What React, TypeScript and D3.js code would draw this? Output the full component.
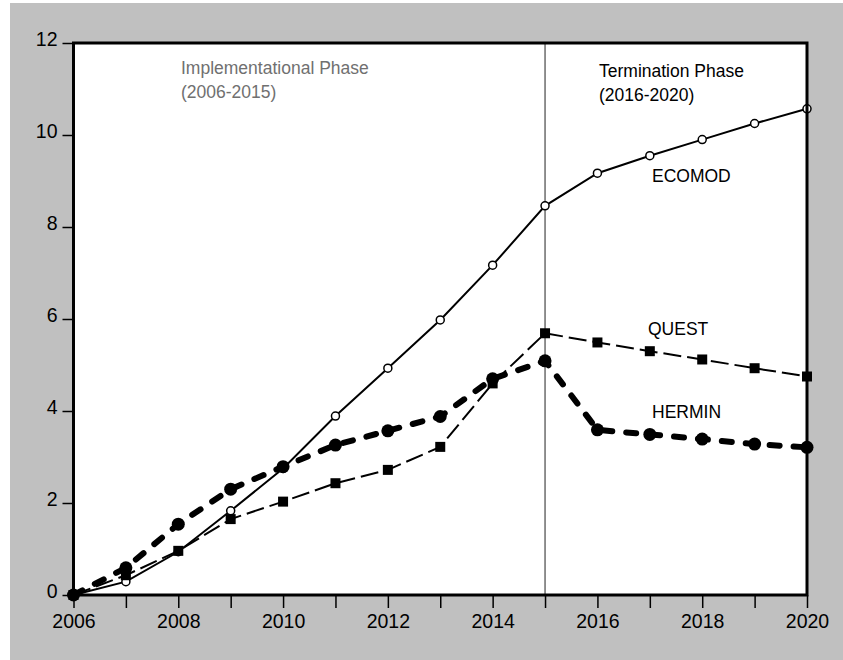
import { useEffect, useRef } from 'react';
import * as d3 from 'd3';

const years = [2006, 2007, 2008, 2009, 2010, 2011, 2012, 2013, 2014, 2015, 2016, 2017, 2018, 2019, 2020];
const ecomod = [0, 0.29, 0.94, 1.83, 2.75, 3.89, 4.93, 5.98, 7.17, 8.46, 9.17, 9.55, 9.9, 10.25, 10.57];
const quest = [0, 0.43, 0.96, 1.65, 2.03, 2.43, 2.72, 3.22, 4.6, 5.69, 5.49, 5.3, 5.12, 4.93, 4.75];
const hermin = [0, 0.59, 1.54, 2.3, 2.79, 3.26, 3.57, 3.88, 4.7, 5.09, 3.59, 3.49, 3.39, 3.28, 3.21];
const yTicks = [0, 2, 4, 6, 8, 10, 12];
const xLabelYears = [2006, 2008, 2010, 2012, 2014, 2016, 2018, 2020];
const phaseSplit = 2015;

const FONT = '"Liberation Sans", Arial, sans-serif';

export default function App() {
  const svgRef = useRef<SVGSVGElement>(null);

  useEffect(() => {
    document.body.style.margin = '0';
    if (!svgRef.current) return;
    const svg = d3.select(svgRef.current);
    svg.selectAll('*').remove();

    const width = 843;
    const height = 660;
    const x = d3.scaleLinear().domain([2006, 2020]).range([73.5, 807]);
    const y = d3.scaleLinear().domain([0, 12]).range([595, 43]);

    // background
    svg.append('rect').attr('width', width).attr('height', height).attr('fill', '#ffffff');
    svg.append('rect').attr('x', 10).attr('y', 3).attr('width', width - 10).attr('height', height - 3).attr('fill', '#c0c0c0');

    // plot area
    svg.append('rect')
      .attr('x', x(2006)).attr('y', y(12))
      .attr('width', x(2020) - x(2006)).attr('height', y(0) - y(12))
      .attr('fill', '#ffffff');

    // phase divider
    svg.append('line')
      .attr('x1', x(phaseSplit)).attr('x2', x(phaseSplit))
      .attr('y1', y(12)).attr('y2', y(0))
      .attr('stroke', '#222').attr('stroke-width', 1);

    // x axis ticks
    const xAxis = d3.axisBottom(x)
      .tickValues(years)
      .tickSize(13)
      .tickFormat(d => (xLabelYears.includes(d as number) ? String(d) : ''));
    const gx = svg.append('g').attr('transform', `translate(0,${y(0)})`).call(xAxis);
    gx.select('.domain').remove();
    gx.selectAll('line').attr('stroke', '#000').attr('stroke-width', 1.5);
    gx.selectAll('text')
      .attr('y', 33)
      .attr('dy', 0)
      .style('font-family', FONT)
      .style('font-size', '19.5px')
      .attr('fill', '#000');

    // y axis ticks
    const yAxis = d3.axisLeft(y).tickValues(yTicks).tickSize(11).tickFormat(d => String(d));
    const gy = svg.append('g').attr('transform', `translate(${x(2006)},0)`).call(yAxis);
    gy.select('.domain').remove();
    gy.selectAll('line').attr('stroke', '#000').attr('stroke-width', 1.5);
    gy.selectAll('text')
      .attr('x', -16)
      .attr('dy', 2)
      .style('font-family', FONT)
      .style('font-size', '19.5px')
      .attr('fill', '#000');

    const pts = (vals: number[]) => years.map((yr, i) => [x(yr), y(vals[i])] as [number, number]);
    const line = d3.line<[number, number]>();

    // ECOMOD
    svg.append('path').attr('d', line(pts(ecomod)))
      .attr('fill', 'none').attr('stroke', '#000').attr('stroke-width', 2);
    svg.append('g').selectAll('circle').data(pts(ecomod)).join('circle')
      .attr('cx', d => d[0]).attr('cy', d => d[1]).attr('r', 4)
      .attr('fill', '#fff').attr('stroke', '#000').attr('stroke-width', 1.5);

    // QUEST
    svg.append('path').attr('d', line(pts(quest)))
      .attr('fill', 'none').attr('stroke', '#000').attr('stroke-width', 2)
      .attr('stroke-dasharray', '18,6');
    svg.append('g').selectAll('rect').data(pts(quest)).join('rect')
      .attr('x', d => d[0] - 5).attr('y', d => d[1] - 5)
      .attr('width', 10).attr('height', 10).attr('fill', '#000');

    // HERMIN
    svg.append('path').attr('d', line(pts(hermin)))
      .attr('fill', 'none').attr('stroke', '#000').attr('stroke-width', 6)
      .attr('stroke-linecap', 'round')
      .attr('stroke-dasharray', '10,14');
    svg.append('g').selectAll('circle').data(pts(hermin)).join('circle')
      .attr('cx', d => d[0]).attr('cy', d => d[1]).attr('r', 6.5)
      .attr('fill', '#000');

    // frame
    svg.append('rect')
      .attr('x', x(2006)).attr('y', y(12))
      .attr('width', x(2020) - x(2006)).attr('height', y(0) - y(12))
      .attr('fill', 'none').attr('stroke', '#000').attr('stroke-width', 3);

    // annotations
    const note = (tx: number, ty: number, s: string, color = '#000') =>
      svg.append('text').attr('x', tx).attr('y', ty).text(s)
        .style('font-family', FONT).style('font-size', '17.5px').attr('fill', color);

    note(181, 74, 'Implementational Phase', '#707070');
    note(181, 98, '(2006-2015)', '#707070');
    note(599, 77, 'Termination Phase');
    note(599, 101, '(2016-2020)');
    note(652, 182, 'ECOMOD');
    note(648, 335, 'QUEST');
    note(652, 418, 'HERMIN');
  }, []);

  return <svg ref={svgRef} width={843} height={660} style={{ display: 'block' }} />;
}
